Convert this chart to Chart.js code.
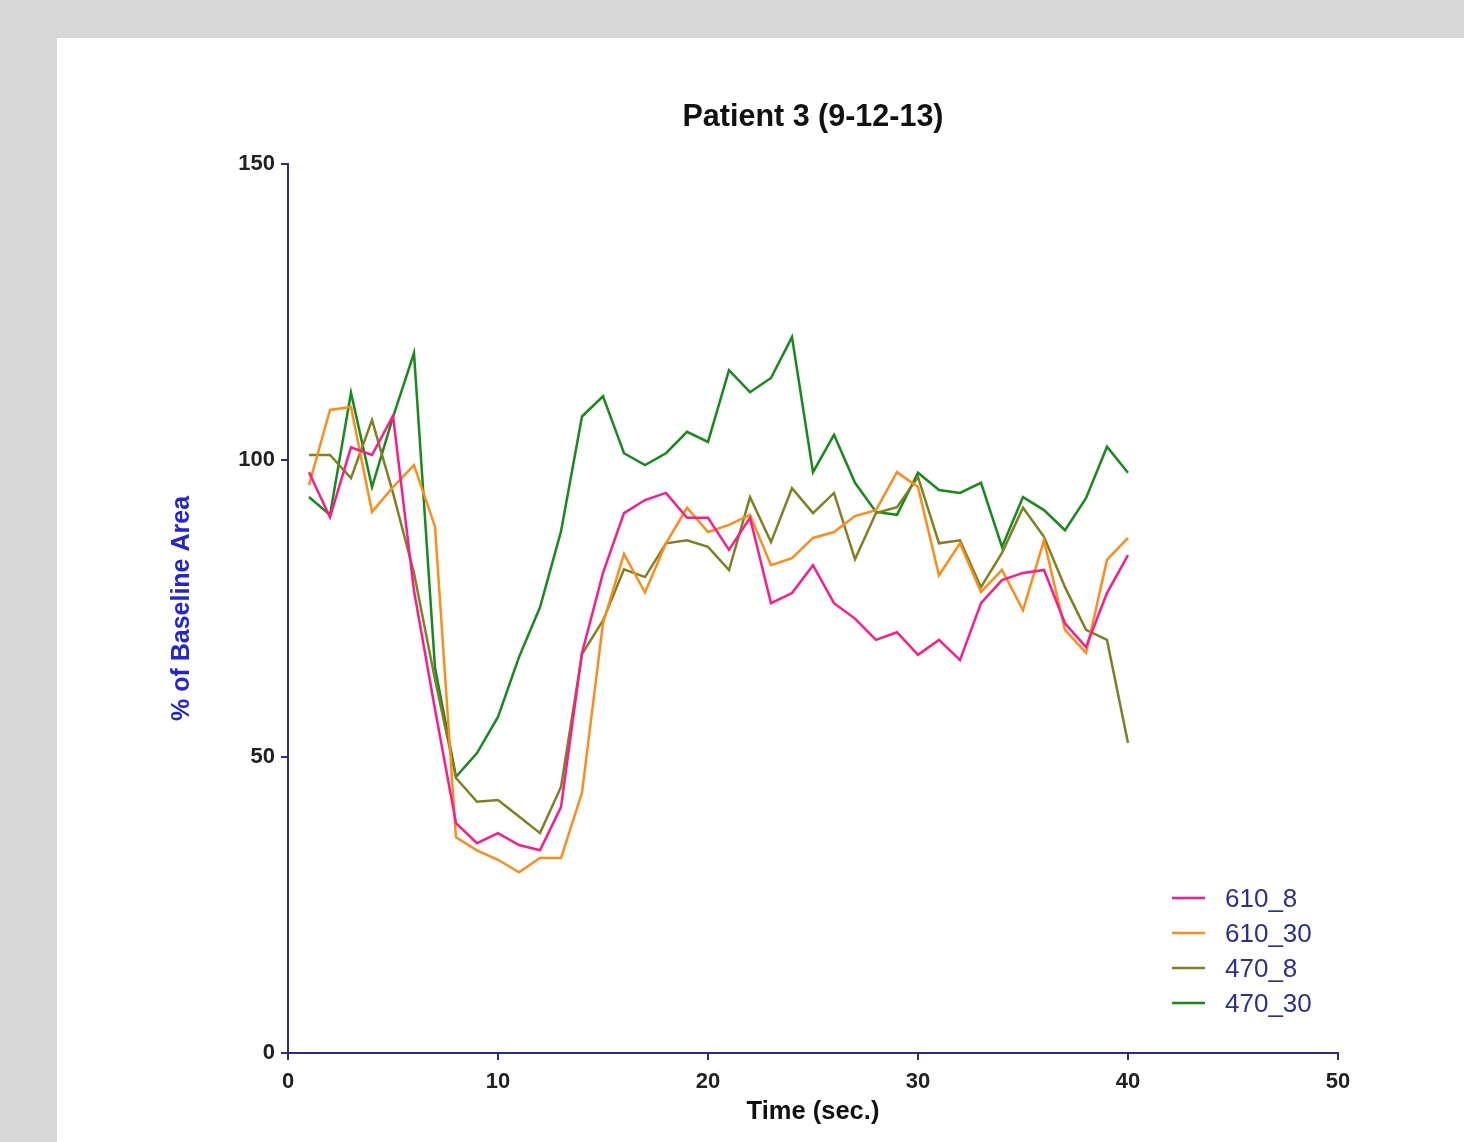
<!DOCTYPE html>
<html>
<head>
  <meta charset="UTF-8">
  <title>Patient 3 (9-12-13)</title>
  <script src="https://cdn.jsdelivr.net/npm/chart.js"></script>
  <style>
    html, body { margin: 0; padding: 0; background: #d8d8d8; width: 1464px; height: 1142px; overflow: hidden; }
    #panel { position: absolute; left: 57px; top: 38px; right: 0; bottom: 0; background: #fff; }
    #chart { position: absolute; left: 0; top: 0; }
  </style>
</head>
<body>
  <div id="panel"></div>
  <canvas id="chart" width="1464" height="1142"></canvas>
  <script>
    // time in seconds
    const times = [1, 2, 3, 4, 5, 6, 7, 8, 9, 10, 11, 12, 13, 14, 15, 16, 17, 18, 19, 20,
                   21, 22, 23, 24, 25, 26, 27, 28, 29, 30, 31, 32, 33, 34, 35, 36, 37, 38, 39, 40];

    const s610_8 = [98.0, 90.4, 102.2, 100.9, 107.5, 78.0, 58.0, 38.8, 35.4, 37.1,
                    35.1, 34.2, 41.5, 67.5, 81.0, 91.1, 93.3, 94.5, 90.3, 90.3,
                    84.9, 90.3, 75.9, 77.6, 82.3, 75.9, 73.3, 69.7, 71.0, 67.2,
                    69.7, 66.3, 75.9, 79.8, 81.0, 81.5, 72.5, 68.5, 77.6, 84.0];

    const s610_30 = [95.8, 108.5, 109.0, 91.3, 95.5, 99.2, 88.8, 36.4, 34.2, 32.6,
                     30.5, 32.9, 32.9, 43.9, 72.5, 84.2, 77.7, 86.0, 92.0, 87.9,
                     89.1, 90.8, 82.3, 83.5, 86.9, 87.9, 90.6, 91.6, 98.0, 95.5,
                     80.6, 86.0, 77.8, 81.5, 74.7, 86.5, 71.4, 67.5, 83.2, 86.9];

    const s470_8 = [100.9, 100.9, 97.0, 106.8, 94.5, 81.0, 63.0, 46.4, 42.4, 42.7,
                    39.9, 37.1, 44.9, 67.3, 73.0, 81.6, 80.3, 86.0, 86.5, 85.4,
                    81.5, 93.8, 86.2, 95.3, 91.1, 94.5, 83.3, 91.1, 92.1, 97.2,
                    86.0, 86.5, 78.6, 84.4, 92.0, 87.1, 78.6, 71.4, 69.7, 52.3];

    const s470_30 = [93.8, 90.8, 111.4, 95.5, 107.3, 118.1, 65.0, 46.6, 50.6, 56.7,
                     66.8, 75.2, 88.0, 107.4, 110.8, 101.2, 99.2, 101.2, 104.8, 103.1,
                     115.2, 111.5, 113.9, 120.8, 98.0, 104.3, 96.2, 91.3, 90.8, 97.9,
                     95.0, 94.5, 96.2, 85.4, 93.8, 91.6, 88.2, 93.6, 102.3, 97.9];

    const seriesNames = ['610_8', '610_30', '470_8', '470_30'];
    const seriesValues = [s610_8, s610_30, s470_8, s470_30];
    const seriesColors = ['#ff1a8c', '#ff8c1a', '#7f8020', '#168a1a'];

    const navy = '#2b2b86';
    const fontFamily = '"Liberation Sans", Arial, sans-serif';

    const datasets = seriesNames.map((name, i) => ({
      label: name,
      data: times.map((t, j) => ({ x: t, y: seriesValues[i][j] })),
      borderColor: seriesColors[i],
      backgroundColor: seriesColors[i],
      borderWidth: 2.5,
      pointRadius: 0,
      fill: false,
      tension: 0
    }));

    // legend drawn inside the plot, bottom right
    const innerLegend = {
      id: 'innerLegend',
      afterDatasetsDraw(chart) {
        const { ctx, chartArea } = chart;
        ctx.save();
        ctx.font = '26px ' + fontFamily;
        ctx.textBaseline = 'middle';
        ctx.textAlign = 'left';
        chart.data.datasets.forEach((ds, i) => {
          const y = chartArea.bottom - 155 + i * 35;
          ctx.strokeStyle = ds.borderColor;
          ctx.lineWidth = 2.5;
          ctx.beginPath();
          ctx.moveTo(chartArea.right - 166, y);
          ctx.lineTo(chartArea.right - 133, y);
          ctx.stroke();
          ctx.fillStyle = '#2e2e92';
          ctx.fillText(ds.label, chartArea.right - 113, y + 2);
        });
        ctx.restore();
      }
    };

    new Chart(document.getElementById('chart'), {
      type: 'line',
      data: { datasets },
      plugins: [innerLegend],
      options: {
        responsive: false,
        animation: false,
        layout: { padding: { left: 100, right: 126, top: 0, bottom: 0 } },
        plugins: {
          legend: { display: false },
          tooltip: { enabled: false },
          title: {
            display: true,
            fullSize: false,
            text: 'Patient 3 (9-12-13)',
            color: '#111',
            font: { family: fontFamily, size: 30.5, weight: 'bold' },
            padding: { top: 99, bottom: 28.4 }
          }
        },
        scales: {
          x: {
            type: 'linear',
            min: 0,
            max: 50,
            afterFit: (scale) => { scale.height = 89; },
            ticks: {
              stepSize: 10,
              color: '#222',
              padding: 9,
              font: { family: fontFamily, size: 22, weight: 'bold' }
            },
            grid: { display: true, drawOnChartArea: false, drawTicks: true, tickLength: 7, color: navy, lineWidth: 2 },
            border: { display: true, color: navy, width: 2 },
            title: {
              display: true,
              text: 'Time (sec.)',
              color: '#111',
              font: { family: fontFamily, size: 25.5, weight: 'bold' },
              padding: { top: 0, bottom: 15 }
            }
          },
          y: {
            min: 0,
            max: 150,
            afterFit: (scale) => { scale.width = 188; },
            ticks: {
              stepSize: 50,
              color: '#222',
              padding: 6,
              font: { family: fontFamily, size: 22, weight: 'bold' }
            },
            grid: { display: true, drawOnChartArea: false, drawTicks: true, tickLength: 7, color: navy, lineWidth: 2 },
            border: { display: true, color: navy, width: 2 },
            title: {
              display: true,
              text: '% of Baseline Area',
              color: '#2323d8',
              font: { family: fontFamily, size: 25, weight: 'bold' },
              padding: { top: 67, bottom: 0 }
            }
          }
        }
      }
    });
  </script>
</body>
</html>
